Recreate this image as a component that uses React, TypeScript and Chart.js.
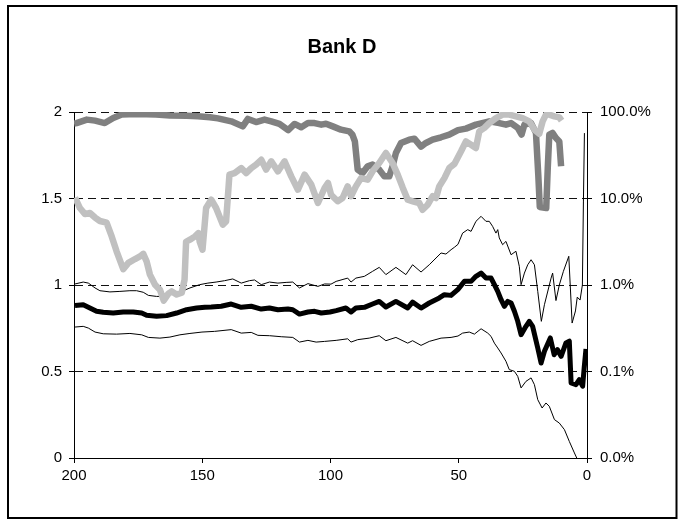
import React, { useEffect, useRef } from "react";
import { Chart, registerables } from "chart.js";

Chart.register(...registerables);

const chartTitle = "Bank D";
const leftTickLabels = ["0", "0.5", "1", "1.5", "2"];
const rightTickLabels = ["0.0%", "0.1%", "1.0%", "10.0%", "100.0%"];

// dark grey thick line
const darkT = [200, 199, 195, 191.8, 188, 184.7, 181.4, 175.6, 168, 162.6, 156, 151.7, 147, 143.9, 138.7, 134.2, 132.2, 129, 125.7, 123.1, 119.9, 116.5, 114, 111.4, 108.8, 106.2, 103.6, 101.75, 99.1, 95.9, 92.7, 91.5, 90.5, 89.4, 87.5, 85.5, 83.6, 81, 79, 77.1, 75.8, 74.5, 72.5, 69.3, 67.3, 64.7, 62.8, 60.2, 56.9, 53.7, 50.3, 47.2, 43.3, 38.1, 34.2, 31.6, 29.6, 27, 25.5, 24.4, 21.8, 19.9, 19.0, 18.4, 15.9, 15.3, 14.7, 13.4, 12.1, 10.8, 10.1];
const darkV = [1.933, 1.936, 1.956, 1.95, 1.936, 1.965, 1.985, 1.988, 1.985, 1.98, 1.978, 1.975, 1.97, 1.963, 1.946, 1.917, 1.96, 1.942, 1.956, 1.946, 1.931, 1.895, 1.931, 1.912, 1.936, 1.936, 1.927, 1.932, 1.917, 1.898, 1.888, 1.87, 1.83, 1.667, 1.647, 1.686, 1.696, 1.667, 1.628, 1.628, 1.686, 1.763, 1.821, 1.84, 1.846, 1.8, 1.821, 1.84, 1.854, 1.869, 1.895, 1.904, 1.927, 1.946, 1.936, 1.927, 1.936, 1.908, 1.87, 1.927, 1.936, 1.879, 1.638, 1.45, 1.445, 1.676, 1.869, 1.879, 1.85, 1.83, 1.686];

// light grey thick line
const lightT = [199.6, 197.7, 195.7, 193.8, 191.8, 189.9, 187.3, 185.3, 183.4, 180.8, 178.8, 176.2, 174.3, 173, 171.7, 170.4, 168.4, 166.5, 165, 163.2, 161.9, 160, 158, 156.9, 156.3, 154.8, 152.8, 151.5, 151, 149.9, 148.5, 146.5, 144.6, 142, 140.7, 139.4, 137.4, 134.8, 132.9, 130.9, 129, 127, 125.1, 123.1, 120.5, 117.9, 115.3, 112.7, 110.1, 107.5, 104.9, 102.3, 101, 99.8, 97.2, 95.3, 93.3, 92, 90.1, 88.1, 85.5, 83.6, 81, 78.4, 75.8, 73.8, 71.8, 69.9, 67.9, 65.4, 64.1, 62.1, 60.2, 58.9, 57.6, 55.6, 53.7, 51.7, 49.1, 47.2, 45.2, 43.3, 42, 40, 38.1, 35.5, 32.9, 30.3, 27.7, 25.1, 22.5, 20.5, 18.6, 17.3, 16, 14.7, 12.7, 10.8, 9.9];
const lightV = [1.505, 1.445, 1.41, 1.416, 1.39, 1.37, 1.36, 1.281, 1.195, 1.092, 1.128, 1.15, 1.165, 1.18, 1.137, 1.06, 1.002, 0.973, 0.91, 0.95, 0.963, 0.945, 0.955, 1.03, 1.25, 1.262, 1.281, 1.3, 1.25, 1.204, 1.445, 1.493, 1.445, 1.349, 1.368, 1.638, 1.647, 1.676, 1.647, 1.676, 1.696, 1.724, 1.667, 1.715, 1.657, 1.715, 1.628, 1.551, 1.638, 1.58, 1.474, 1.561, 1.59, 1.522, 1.484, 1.503, 1.57, 1.513, 1.57, 1.618, 1.609, 1.657, 1.705, 1.763, 1.705, 1.638, 1.561, 1.493, 1.484, 1.474, 1.435, 1.464, 1.513, 1.503, 1.57, 1.618, 1.676, 1.7, 1.773, 1.83, 1.811, 1.792, 1.888, 1.908, 1.936, 1.965, 1.985, 1.985, 1.975, 1.965, 1.946, 1.898, 1.875, 1.946, 1.985, 1.985, 1.975, 1.969, 1.95];

// black thick line
const midT = [199.6, 196.4, 193.8, 191.2, 188.6, 184.7, 180.8, 176.9, 173.6, 171.7, 167.8, 163.9, 160, 156.1, 152.2, 149, 146.5, 142.6, 138.7, 134.8, 130.9, 127, 123.8, 120.5, 116.6, 114.7, 112.1, 108.8, 106.2, 103.6, 100.2, 97.8, 94, 92, 90.1, 86.8, 83.6, 81, 78.4, 74.5, 69.9, 68, 64.7, 61.5, 57.6, 55.6, 53, 50.3, 47.8, 45.2, 43.3, 41.3, 39.4, 37.4, 36.1, 34.8, 33.5, 32.2, 30.9, 29.6, 28.3, 27, 25.7, 23.8, 22.5, 21.2, 19.2, 17.9, 16.6, 14.3, 12.8, 11.5, 10.1, 8.2, 6.9, 6.2, 4.3, 3, 1.7, 1.1, 0.4];
const midV = [0.882, 0.886, 0.867, 0.848, 0.842, 0.838, 0.844, 0.844, 0.838, 0.825, 0.819, 0.823, 0.838, 0.857, 0.867, 0.872, 0.873, 0.877, 0.89, 0.871, 0.877, 0.861, 0.867, 0.857, 0.861, 0.857, 0.832, 0.844, 0.848, 0.838, 0.844, 0.852, 0.867, 0.844, 0.867, 0.871, 0.89, 0.905, 0.873, 0.905, 0.867, 0.901, 0.867, 0.896, 0.925, 0.944, 0.94, 0.975, 1.021, 1.021, 1.05, 1.069, 1.04, 1.04, 1.002, 0.963, 0.915, 0.877, 0.905, 0.896, 0.848, 0.79, 0.713, 0.761, 0.79, 0.761, 0.636, 0.549, 0.617, 0.694, 0.597, 0.626, 0.588, 0.665, 0.675, 0.434, 0.424, 0.453, 0.415, 0.52, 0.63];

// thin upper band
const upT = [199.6, 196.4, 194.4, 191.8, 189.9, 186, 182.1, 178.2, 175.6, 173, 171, 167.8, 165.2, 161, 157.4, 154.8, 151, 147.8, 144.6, 141.3, 138.1, 134.8, 131.6, 129.6, 127, 123.8, 120.5, 117.3, 114.7, 112.1, 108.8, 104.9, 102.3, 99.8, 97.8, 93.3, 92, 90.1, 86.8, 83.6, 81, 78.4, 74.5, 70.6, 68, 64.7, 61.5, 56.9, 55, 53, 51.7, 50.3, 48.5, 46.5, 45.2, 43.3, 41.3, 39.4, 38.1, 36.8, 35.5, 34.8, 34.2, 32.9, 31.6, 29.6, 27.7, 26.4, 25.7, 24.4, 23.1, 21.8, 20.5, 19.2, 17.8, 16.6, 14, 13.4, 12.1, 10.8, 9.2, 7.1, 5.8, 4.5, 3.8, 2.7, 1.8, 1.4, 1.0];
const upV = [1.006, 1.017, 1.011, 0.983, 0.967, 0.96, 0.963, 0.967, 0.967, 0.958, 0.94, 0.934, 0.934, 0.95, 0.967, 0.983, 1.002, 1.011, 1.017, 1.025, 1.035, 1.011, 1.025, 1.029, 1.002, 1.017, 1.011, 1.015, 1.017, 0.983, 1.008, 0.992, 1.006, 1.005, 1.021, 1.04, 1.017, 1.04, 1.05, 1.079, 1.102, 1.06, 1.102, 1.06, 1.117, 1.075, 1.117, 1.185, 1.179, 1.204, 1.218, 1.235, 1.3, 1.32, 1.31, 1.368, 1.397, 1.368, 1.368, 1.339, 1.3, 1.32, 1.272, 1.233, 1.252, 1.175, 1.195, 1.108, 1.002, 1.069, 1.117, 1.146, 1.117, 0.963, 0.79, 0.886, 1.04, 1.069, 0.91, 1.0, 1.079, 1.166, 0.78, 0.85, 0.93, 0.913, 1.0, 1.48, 1.878];

// thin lower band
const lowT = [199.6, 196.4, 194.4, 191.8, 188.6, 183.4, 178.2, 173.6, 171, 166.5, 162.6, 158.7, 154.8, 150.1, 145.2, 138.7, 134.8, 130.9, 128.3, 123.8, 119.2, 114.7, 112.1, 108.8, 105.6, 102.3, 97.8, 93.3, 92, 89.4, 84.9, 81, 78.4, 74.5, 69.9, 68, 64.7, 61.5, 56.9, 53, 50.3, 48.5, 45.9, 43.9, 41.3, 38.7, 37.4, 36.1, 34.8, 33.5, 31.6, 30.3, 28.3, 27, 25.7, 23.8, 21.8, 20.5, 19.2, 17.5, 16, 14.7, 12.7, 10.8, 8.8, 6.9, 4.9, 4.0];
const lowV = [0.757, 0.761, 0.751, 0.728, 0.718, 0.716, 0.72, 0.712, 0.697, 0.693, 0.699, 0.712, 0.72, 0.728, 0.732, 0.742, 0.722, 0.726, 0.709, 0.707, 0.701, 0.697, 0.67, 0.68, 0.67, 0.674, 0.68, 0.689, 0.67, 0.684, 0.693, 0.707, 0.678, 0.697, 0.664, 0.678, 0.651, 0.674, 0.693, 0.697, 0.705, 0.722, 0.728, 0.716, 0.747, 0.722, 0.703, 0.664, 0.636, 0.607, 0.559, 0.511, 0.501, 0.472, 0.405, 0.443, 0.463, 0.424, 0.337, 0.289, 0.318, 0.299, 0.222, 0.202, 0.164, 0.096, 0.029, 0];

const pts = (t: number[], v: number[]) => t.map((x, i) => ({ x, y: v[i] }));

const FONT = "'Liberation Sans', Arial, Helvetica, sans-serif";

const framePlugin = {
  id: "frame",
  afterDraw(chart: any) {
    const ctx = chart.ctx;
    ctx.save();
    ctx.strokeStyle = "#000";
    ctx.lineWidth = 2;
    ctx.strokeRect(8, 6, 668.5, 512);
    ctx.restore();
  },
};

export default function App() {
  const ref = useRef<HTMLCanvasElement | null>(null);

  useEffect(() => {
    if (!ref.current) return;
    const lineStyle = (color: string, width: number) => ({
      borderColor: color,
      backgroundColor: color,
      borderWidth: width,
      pointRadius: 0,
      pointHoverRadius: 0,
      tension: 0,
      fill: false,
      borderJoinStyle: "round" as const,
      yAxisID: "y",
      xAxisID: "x",
    });
    const chart = new Chart(ref.current, {
      type: "line",
      data: {
        datasets: [
          { label: "light", data: pts(lightT, lightV), ...lineStyle("#c0c0c0", 6.5) },
          { label: "dark", data: pts(darkT, darkV), ...lineStyle("#808080", 6.5) },
          { label: "mid", data: pts(midT, midV), ...lineStyle("#000000", 5) },
          { label: "upper", data: pts(upT, upV), ...lineStyle("#000000", 1) },
          { label: "lower", data: pts(lowT, lowV), ...lineStyle("#000000", 1) },
        ],
      },
      options: {
        animation: false,
        responsive: false,
        maintainAspectRatio: false,
        events: [],
        layout: { padding: { top: 35, left: 0, right: 0, bottom: 0 } },
        plugins: {
          legend: { display: false },
          tooltip: { enabled: false },
          title: {
            display: true,
            text: chartTitle,
            color: "#000",
            font: { family: FONT, size: 20, weight: "bold" },
            padding: { top: 0, bottom: 53 },
          },
        },
        scales: {
          x: {
            type: "linear",
            reverse: true,
            min: 0,
            max: 200,
            afterFit: (s: any) => { s.height = 66; },
            ticks: { stepSize: 50, color: "#000", font: { family: FONT, size: 15 }, padding: 4, maxRotation: 0 },
            grid: { drawOnChartArea: false, drawTicks: true, tickLength: 5, color: "#000", tickColor: "#000" },
            border: { display: true, color: "#000", width: 1 },
          },
          y: {
            type: "linear",
            position: "left",
            min: 0,
            max: 2,
            afterFit: (s: any) => { s.width = 74; },
            ticks: {
              stepSize: 0.5,
              color: "#000",
              font: { family: FONT, size: 15 },
              padding: 7,
              callback: (_v: any, i: number) => leftTickLabels[i],
            },
            grid: {
              drawOnChartArea: true,
              drawTicks: true,
              tickLength: 5,
              color: "#111",
              tickColor: "#000",
              tickBorderDash: [],
            },
            border: { display: true, color: "#000", width: 1, dash: [8, 5] },
          },
          y2: {
            type: "linear",
            position: "right",
            min: 0,
            max: 2,
            afterFit: (s: any) => { s.width = 97; },
            ticks: {
              stepSize: 0.5,
              color: "#000",
              font: { family: FONT, size: 15 },
              padding: 8,
              callback: (_v: any, i: number) => rightTickLabels[i],
            },
            grid: { drawOnChartArea: false, drawTicks: true, tickLength: 5, color: "#000", tickColor: "#000" },
            border: { display: true, color: "#000", width: 1 },
          },
        },
      } as any,
      plugins: [framePlugin],
    });
    return () => chart.destroy();
  }, []);

  return (
    <div style={{ position: "absolute", left: 0, top: 0, width: 684, height: 524, background: "#fff" }}>
      <canvas ref={ref} width={684} height={524} style={{ width: 684, height: 524, display: "block" }} />
    </div>
  );
}
